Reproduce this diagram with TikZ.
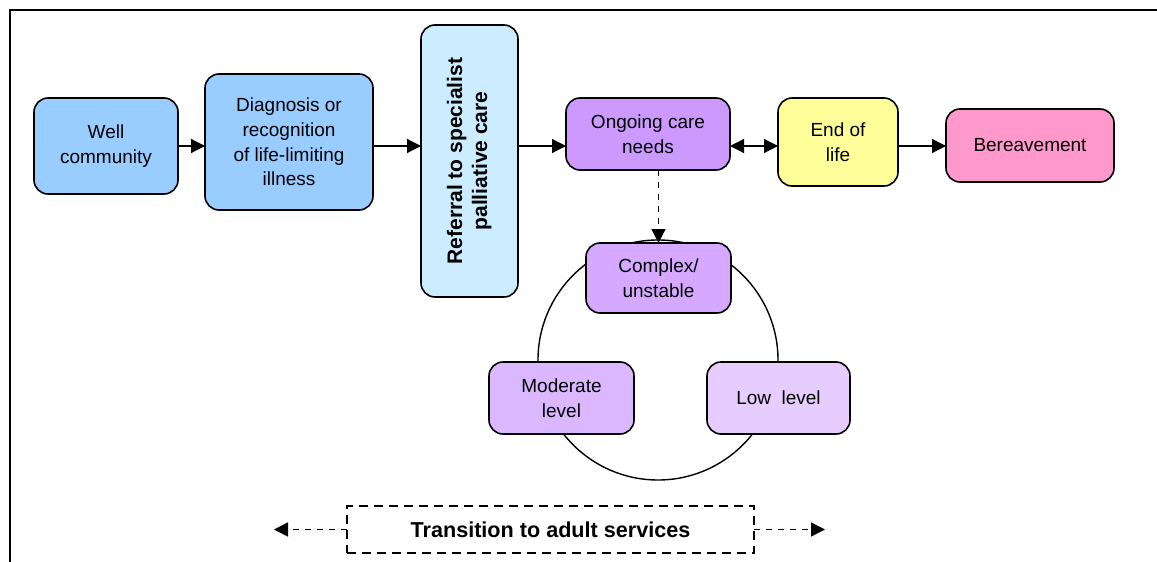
\documentclass[tikz,border=0pt]{standalone}
\usepackage{fontspec}
\setmainfont{Liberation Sans}
\usepackage{xcolor}
\usetikzlibrary{shapes,arrows,arrows.meta,positioning,calc}

\definecolor{wellblue}{HTML}{99CCFF}
\definecolor{referblue}{HTML}{CCECFF}
\definecolor{ongoingpurple}{HTML}{CC99FF}
\definecolor{endyellow}{HTML}{FFFF99}
\definecolor{bereavepink}{HTML}{FF99CC}
\definecolor{complexpurple}{HTML}{D6A8FF}
\definecolor{moderatepurple}{HTML}{DBB7FF}
\definecolor{lowpurple}{HTML}{E6CCFF}

\begin{document}
\begin{tikzpicture}[
    x=0.5pt, y=-0.5pt,
    node distance=24pt,
    stage/.style={rectangle, rounded corners=7pt, draw, line width=0.8pt, align=center, inner sep=2pt, outer sep=0pt, font=\fontsize{9.5}{12.3}\selectfont},
    arrow/.style={-{Triangle[length=7pt,width=7pt]}, line width=0.6pt},
    dasharrow/.style={arrow, line width=0.7pt, dash pattern=on 3pt off 3pt}
]
    \useasboundingbox (0,0) rectangle (1157,562);
    \draw[line width=1pt] (10,562) -- (10,10) -- (1157,10);

    % Care pathway
    \node[stage, fill=wellblue, minimum width=72pt, minimum height=48pt] (well) at (106,146) {Well\\community};
    \node[stage, fill=wellblue, minimum width=84pt, minimum height=68pt, right=13.5pt of well, yshift=2pt] (diag) {Diagnosis or\\recognition\\of life-limiting\\illness};
    \node[stage, fill=referblue, minimum width=48.5pt, minimum height=136pt, right=24pt of diag, yshift=-9.5pt, font=\fontsize{10.5}{12.5}\selectfont\bfseries] (refer) {\rotatebox{90}{\begin{tabular}{@{}c@{}}Referral to specialist\\palliative care\end{tabular}}};
    \node[stage, fill=ongoingpurple, minimum width=82pt, minimum height=36pt, right=24pt of refer, yshift=13.5pt] (ongoing) {Ongoing care\\needs};
    \node[stage, fill=endyellow, minimum width=60pt, minimum height=44pt, right=24pt of ongoing, yshift=-4pt] (endlife) {End of\\life};
    \node[stage, fill=bereavepink, minimum width=84pt, minimum height=36.5pt, right=24pt of endlife, yshift=-1.75pt] (bereave) {Bereavement};

    % Levels of need
    \node[circle, draw, line width=0.7pt, minimum size=120pt, inner sep=0pt] (cycle) at (658,360) {};
    \node[stage, fill=complexpurple, minimum width=72.5pt, minimum height=35pt] (complex) at (658.5,278) {Complex/\\unstable};
    \node[stage, fill=moderatepurple, minimum width=72.5pt, minimum height=36pt] (moderate) at (561.5,398) {Moderate\\level};
    \node[stage, fill=lowpurple, minimum width=71.5pt, minimum height=36pt] (low) at (778.5,398) {Low \ level};

    % Transition
    \node[draw, dash pattern=on 4.5pt off 3pt, line width=0.7pt, outer sep=0pt, minimum width=203.5pt, minimum height=23.5pt, font=\fontsize{10.8}{13}\selectfont\bfseries] (trans) at (550.5,529.5) {Transition to adult services};
    \coordinate (transleft) at (274,529.5);
    \coordinate (transright) at (825,529.5);

    % Connectors
    \draw[arrow] (well.east) -- (diag.west |- well.east);
    \draw[arrow] (diag.east |- well.east) -- (refer.west |- well.east);
    \draw[arrow] (refer.east |- well.east) -- (ongoing.west |- well.east);
    \draw[arrow, {Triangle[length=7pt,width=7pt]}-{Triangle[length=7pt,width=7pt]}] (ongoing.east |- well.east) -- (endlife.west |- well.east);
    \draw[arrow] (endlife.east |- well.east) -- (bereave.west |- well.east);
    \draw[dasharrow] (complex.north |- ongoing.south) -- (complex.north);
    \draw[dasharrow] (trans.west) -- (transleft);
    \draw[dasharrow] (trans.east) -- (transright);
\end{tikzpicture}
\end{document}
